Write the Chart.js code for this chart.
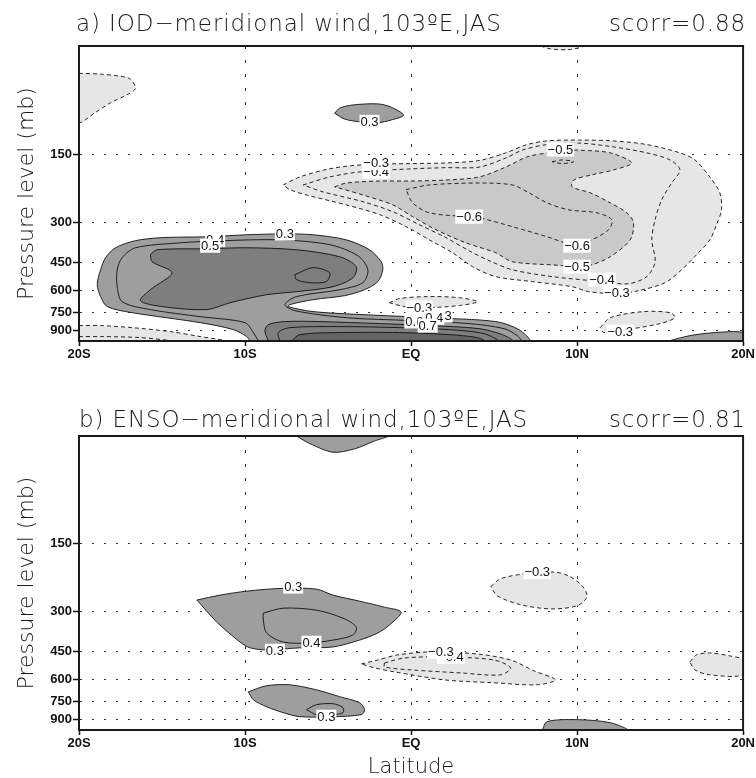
<!DOCTYPE html>
<html>
<head>
<meta charset="utf-8">
<script src="https://cdn.jsdelivr.net/npm/chart.js@4.4.0/dist/chart.umd.min.js"></script>
<style>
  html, body { margin: 0; padding: 0; background: #fff; }
  #page { position: relative; width: 756px; height: 778px; overflow: hidden; }
  .box { position: absolute; left: 0; width: 756px; }
  #boxA { top: 0; height: 372px; }
  #boxB { top: 380px; height: 398px; }
  .ttl { position: absolute; font-family: "DejaVu Sans", sans-serif; font-weight: 200;
         font-size: 23px; line-height: 1; color: #1a1a1a; white-space: nowrap; letter-spacing: 0.9px; }
</style>
</head>
<body>
<div id="page">
  <div class="box" id="boxA"><canvas id="chartA"></canvas></div>
  <div class="box" id="boxB"><canvas id="chartB"></canvas></div>
  <div class="ttl" style="left:76px;top:12px">a) IOD−meridional wind,103ºE,JAS</div>
  <div class="ttl" style="right:10px;top:12px">scorr=0.88</div>
  <div class="ttl" style="left:79px;top:408px">b) ENSO−meridional wind,103ºE,JAS</div>
  <div class="ttl" style="right:10px;top:408px">scorr=0.81</div>
</div>
<script>
"use strict";

// axes
const LAT_TICKS = [-20, -10, 0, 10, 20];
const LAT_LABELS = ['20S', '10S', 'EQ', '10N', '20N'];
const LEV_TICKS = [150, 300, 450, 600, 750, 900];

// ---- a) IOD contours, [latitude, pressure mb] ----
const iodNegTopLeft = [[-20,66],[-18.7,66.5],[-17.5,68],[-16.9,70],[-16.6,77],[-17.1,82],[-18.1,89],[-19.0,98],[-20,108]];
const iodNegTopEdge = [[7.8,50],[8.4,51.5],[9.6,51.8],[10.4,50]];
const iodPosUpper = [[-4.6,99],[-4.3,94],[-3.5,91],[-2.0,90],[-1.2,93],[-0.45,101],[-1.2,106],[-2.0,109],[-3.1,108],[-4.0,105]];
const iodNeg03 = [[-7.7,205],[-6.7,189],[-4.9,174],[-2.9,167],[0,165],[2.1,164],[4.1,160],[5.7,148],[7.0,136],[8.2,131],[10.1,130],[12.1,131],[14.2,136],[16.2,148],[17.1,159],[18.0,189],[18.6,222],[18.7,264],[18.4,307],[18.0,358],[17.2,416],[16.3,485],[15.3,553],[13.7,600],[12.4,618],[10.7,606],[9.7,576],[7.3,547],[5.1,520],[3.7,470],[2.5,408],[1.1,358],[-0.3,313],[-1.9,277],[-3.9,251],[-6.3,227],[-7.3,215]];
const iodNeg04 = [[-6.5,205],[-4.9,189],[-2.9,179],[0.1,174],[2.1,172],[4.1,171],[5.7,156],[6.7,144],[8.2,136],[10.1,134],[12.1,139],[14.2,148],[15.6,159],[16.2,176],[15.7,201],[15.1,238],[14.7,292],[14.5,358],[14.7,447],[14.2,520],[13.1,559],[11.5,547],[8.5,520],[6.1,485],[4.7,442],[3.5,400],[2.1,350],[0.5,307],[-1.1,269],[-2.9,243],[-5.3,220]];
const iodNeg05 = [[-4.6,209],[-3.9,201],[-1.9,197],[0,197],[2.1,195],[4.1,189],[5.7,171],[7.0,154],[8.2,148],[9.1,144],[10.1,144],[12.0,148],[13.3,164],[12.2,176],[10.9,185],[9.8,195],[9.7,209],[10.8,222],[12.0,246],[13.0,272],[13.4,301],[13.2,358],[12.0,425],[10.9,461],[9.8,475],[9.1,465],[6.1,447],[5.1,408],[3.3,369],[1.5,323],[0.1,283],[-1.1,251],[-2.9,227],[-4.0,215]];
const iodNeg06 = [[-0.3,215],[1.1,205],[4.1,201],[6.1,205],[7.1,222],[8.2,246],[9.5,264],[11.2,272],[12.1,292],[11.9,323],[10.9,358],[10.0,380],[8.2,347],[6.1,313],[4.1,286],[3.4,283],[1.1,272],[0.1,246]];
const iodNeg06b = [[8.5,162],[9.1,159],[9.8,162],[9.1,165]];
const iodPos03 = [[-9.7,1000],[-9.9,956],[-10.7,891],[-12.7,830],[-16.8,750],[-18.3,705],[-18.7,637],[-18.9,564],[-18.7,485],[-18.4,429],[-17.8,388],[-16.6,361],[-15.0,350],[-12.3,347],[-9.9,340],[-7.6,337],[-5.9,340],[-3.9,358],[-2.5,396],[-1.8,447],[-1.7,485],[-2.0,547],[-2.8,594],[-4.0,631],[-5.9,657],[-7.3,691],[-7.4,705],[-5.9,742],[-2.9,765],[1.1,789],[5.1,821],[6.5,891],[7.1,1000]];
const iodPos04 = [[-9.2,1000],[-9.5,918],[-10.0,830],[-12.7,781],[-15.7,727],[-17.4,671],[-17.7,576],[-17.7,485],[-17.4,429],[-16.6,388],[-13.9,369],[-11.3,361],[-7.9,358],[-4.9,376],[-3.2,421],[-2.6,485],[-2.9,553],[-4.3,594],[-6.9,637],[-7.6,691],[-7.0,735],[-3.9,789],[0,813],[3.5,838],[5.6,882],[6.4,947],[6.6,1000]];
const iodPos05Upper = [[-15.7,416],[-15.3,396],[-12.3,392],[-9.9,388],[-6.9,396],[-4.3,425],[-3.3,470],[-3.5,526],[-4.7,576],[-6.9,606],[-8.7,625],[-10.9,678],[-12.3,727],[-15.0,705],[-16.3,664],[-15.7,594],[-14.4,500],[-15.6,447]];
const iodPos06Upper = [[-7.0,510],[-5.9,475],[-4.9,500],[-5.1,547],[-6.1,553],[-6.9,536]];
const iodPos05Low = [[-8.6,1000],[-8.8,900],[-8.6,847],[-7.6,821],[-5.5,821],[-1.9,838],[1.1,855],[4.1,882],[5.5,937],[6.1,1000]];
const iodPos06Low = [[-7.9,1000],[-8.0,918],[-7.3,873],[-4.3,864],[-0.7,873],[2.3,891],[4.4,928],[5.2,1000]];
const iodPos07Low = [[-7.2,1000],[-6.7,937],[-4.3,918],[-0.7,918],[2.3,937],[4.0,966],[4.4,1000]];
const iodNegSurf03 = [[-20,855],[-18.7,855],[-16.8,873],[-14.5,909],[-12.7,956],[-11.2,1000],[-20,1000]];
const iodNegSurf04 = [[-20,956],[-18.7,956],[-16.3,966],[-14.5,1000],[-20,1000]];
const iodNegMid = [[-1.3,678],[-0.7,650],[1.0,637],[2.9,644],[4.0,671],[2.9,698],[1.1,712],[-0.4,705]];
const iodNegRight = [[11.4,873],[12.0,789],[14.0,742],[15.6,750],[15.9,789],[15.0,838],[13.0,891],[11.6,918]];
const iodPosRight = [[15.5,1000],[16.8,947],[18.3,918],[20,918],[20,1000]];

// contour level for each outline, drawn first to last
const iodContours = [
  [-0.3, iodNegTopLeft], [-0.3, iodNegTopEdge], [0.3, iodPosUpper],
  [-0.3, iodNeg03], [-0.4, iodNeg04], [-0.5, iodNeg05], [-0.6, iodNeg06], [-0.6, iodNeg06b],
  [0.3, iodPos03], [0.4, iodPos04], [0.5, iodPos05Upper], [0.6, iodPos06Upper],
  [0.5, iodPos05Low], [0.6, iodPos06Low], [0.7, iodPos07Low],
  [-0.3, iodNegSurf03], [-0.4, iodNegSurf04], [-0.3, iodNegMid],
  [-0.3, iodNegRight], [0.3, iodPosRight],
];
const iodLabels = [
  [-2.5,108,'0.3'], [-2.1,179,'−0.4'], [-2.1,164,'−0.3'], [9.0,143,'−0.5'],
  [3.5,283,'−0.6'], [10.0,380,'−0.6'], [10.0,470,'−0.5'], [11.5,536,'−0.4'], [12.4,612,'−0.3'],
  [-7.6,336,'0.3'], [-11.8,358,'0.4'], [-12.1,380,'0.5'],
  [0.5,712,'−0.3'], [1.9,773,'0.3'], [1.4,789,'0.4'], [0.2,821,'0.6'], [1.0,855,'0.7'],
  [12.6,909,'−0.3'],
];

// ---- b) ENSO contours ----
const ensoPosTop = [[-6.9,50],[-6.1,54],[-4.7,59],[-3.4,57],[-2.2,52.6],[-1.4,50]];
const ensoPos03Upper = [[-12.9,266],[-11.5,253],[-9.9,243],[-7.7,236],[-5.7,238],[-4.7,253],[-3.1,269],[-1.6,286],[-0.6,301],[-1.3,343],[-2.0,372],[-3.1,400],[-4.7,429],[-6.7,433],[-8.7,442],[-9.7,433],[-10.3,408],[-11.7,333]];
const ensoPos04Upper = [[-8.9,304],[-7.7,289],[-5.7,295],[-4.1,320],[-3.3,350],[-3.5,380],[-4.7,400],[-6.1,412],[-7.7,408],[-8.7,372],[-8.9,326]];
const ensoPos03Lower = [[-9.8,678],[-8.7,637],[-7.3,631],[-5.7,664],[-4.3,712],[-3.1,757],[-2.8,813],[-3.0,855],[-4.7,873],[-6.7,873],[-7.7,838],[-8.7,789],[-9.5,735]];
const ensoPos04Lower = [[-6.3,813],[-5.7,773],[-4.7,765],[-4.1,797],[-4.1,838],[-4.7,855],[-5.7,855]];
const ensoNeg250 = [[4.8,232],[5.4,214],[6.8,204],[8.6,200],[9.5,208],[10.3,230],[10.6,257],[10.0,282],[8.4,291],[6.6,279],[5.2,255]];
const ensoNeg500 = [[-3.0,510],[-2.0,490],[-0.8,465],[1.2,451],[4.0,461],[6.0,490],[7.4,547],[8.7,600],[7.6,631],[5.0,618],[2.0,600],[-1.0,553],[-2.2,531]];
const ensoNeg500In = [[-1.6,505],[-0.4,480],[2.0,475],[5.0,490],[6.0,531],[5.4,570],[3.0,559],[0,542],[-1.6,526]];
const ensoNegEdge = [[16.8,500],[17.2,465],[18.0,456],[19.2,470],[20,490],[20,570],[18.0,570],[17.1,542]];
const ensoPosSurf = [[7.9,1000],[8.2,918],[10.0,900],[12.0,928],[13.0,1000]];

const ensoContours = [
  [0.3, ensoPosTop], [0.3, ensoPos03Upper], [0.4, ensoPos04Upper],
  [0.3, ensoPos03Lower], [0.4, ensoPos04Lower],
  [-0.3, ensoNeg250], [-0.3, ensoNeg500], [-0.4, ensoNeg500In],
  [-0.3, ensoNegEdge], [0.3, ensoPosSurf],
];
const ensoLabels = [
  [-7.1,232,'0.3'], [-6.0,411,'0.4'], [-8.2,446,'0.3'], [-5.1,873,'0.3'],
  [7.6,200,'−0.3'], [2.4,475,'−0.4'], [1.8,451,'−0.3'],
];

// shading by contour level
function shade(level) {
  if (level <= -0.5) return '#c9c9c9';
  if (level < 0) return '#e6e6e6';
  if (level >= 0.7) return '#646464';
  if (level >= 0.5) return '#7e7e7e';
  return '#9e9e9e';
}

const panelDecor = {
  id: 'panelDecor',
  afterDraw(chart, args, opts) {
    const { ctx, chartArea: a, scales: { x, y } } = chart;
    ctx.save();
    ctx.font = '13px "Liberation Sans", Arial, sans-serif';
    ctx.textAlign = 'center';
    ctx.textBaseline = 'middle';
    for (const [lat, lev, txt] of opts.labels) {
      const px = x.getPixelForValue(lat);
      const py = y.getPixelForValue(lev);
      const w = ctx.measureText(txt).width;
      ctx.fillStyle = '#fff';
      ctx.fillRect(px - w / 2 - 1, py - 7, w + 2, 14);
      ctx.fillStyle = '#111';
      ctx.fillText(txt, px, py + 0.5);
    }
    ctx.lineWidth = 2;
    ctx.strokeStyle = '#1a1a1a';
    ctx.strokeRect(a.left, a.top, a.right - a.left, a.bottom - a.top);
    ctx.restore();
  }
};

function buildDatasets(list) {
  return list.map(([level, pts], i) => ({
    data: pts.concat([pts[0]]).map(([lat, p]) => ({ x: lat, y: p })),
    borderColor: '#111',
    borderWidth: 0.9,
    borderDash: level < 0 ? [4, 3] : [],
    backgroundColor: shade(level),
    fill: 'shape',
    tension: 0.3,
    pointRadius: 0,
    clip: 0,
    order: list.length - i,
  }));
}

function makePanel(id, list, labels, padTop, xHeight, xTitle) {
  const tickFont = { family: '"Liberation Sans", Arial, sans-serif', size: 13, weight: 'bold' };
  const titleFont = { family: '"DejaVu Sans", sans-serif', size: 21, weight: 200, lineHeight: 1.0 };
  return new Chart(document.getElementById(id), {
    type: 'line',
    data: { datasets: buildDatasets(list) },
    plugins: [panelDecor],
    options: {
      responsive: true,
      maintainAspectRatio: false,
      animation: false,
      events: [],
      layout: { padding: { top: padTop, right: 12, left: 0, bottom: 0 } },
      plugins: { legend: { display: false }, tooltip: { enabled: false }, panelDecor: { labels } },
      scales: {
        x: {
          type: 'linear', min: -20, max: 20, z: 1,
          afterBuildTicks: s => { s.ticks = LAT_TICKS.map(v => ({ value: v })); },
          afterFit: s => { s.height = xHeight; },
          ticks: {
            callback: v => LAT_LABELS[LAT_TICKS.indexOf(v)],
            font: tickFont, color: '#111', padding: 1, maxRotation: 0, autoSkip: false,
          },
          grid: { color: '#333', lineWidth: 1, tickLength: 5, tickColor: '#111', tickWidth: 1.5 },
          border: { display: true, color: '#1a1a1a', width: 2, dash: [3, 11] },
          title: {
            display: !!xTitle, text: xTitle || '', color: '#1a1a1a', font: titleFont,
            padding: { top: 0, bottom: 0 },
          },
        },
        y: {
          type: 'logarithmic', reverse: true, min: 50, max: 1000, z: 1,
          afterBuildTicks: s => { s.ticks = LEV_TICKS.map(v => ({ value: v })); },
          afterFit: s => { s.width = 79; },
          ticks: { callback: v => String(v), font: tickFont, color: '#111', padding: 1, autoSkip: false },
          grid: { color: '#333', lineWidth: 1, tickLength: 6, tickColor: '#111', tickWidth: 1.5 },
          border: { display: true, color: '#1a1a1a', width: 2, dash: [2, 10] },
          title: {
            display: true, text: 'Pressure level (mb)', color: '#1a1a1a',
            font: { family: '"DejaVu Sans", sans-serif', size: 22, weight: 200, lineHeight: 1.2 },
            padding: { top: 14, bottom: 0 },
          },
        },
      },
    },
  });
}

makePanel('chartA', iodContours, iodLabels, 46, 31, null);
makePanel('chartB', ensoContours, ensoLabels, 56, 48, 'Latitude');
</script>
</body>
</html>
